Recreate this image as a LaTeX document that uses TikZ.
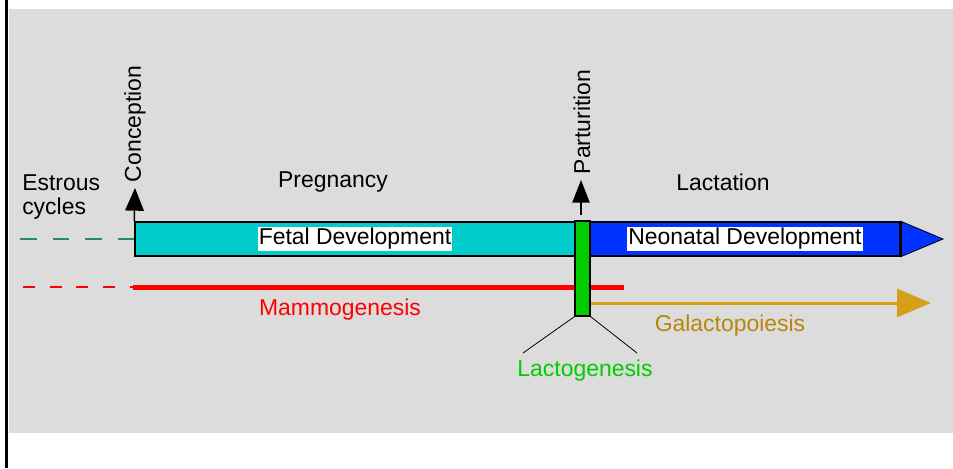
\documentclass[tikz,border=0pt]{standalone}
\usepackage{fontspec}
\setmainfont{Liberation Sans}
\usetikzlibrary{positioning,arrows.meta}

\definecolor{panelgray}{RGB}{220,220,220}
\definecolor{fetalcyan}{RGB}{0,204,204}
\definecolor{neoblue}{RGB}{0,51,255}
\definecolor{lactogreen}{RGB}{0,204,0}
\definecolor{estrousgreen}{RGB}{46,139,87}
\definecolor{galactogold}{RGB}{212,160,23}
\definecolor{galactotext}{RGB}{184,134,11}

\begin{document}
\begin{tikzpicture}[x=0.75pt, y=-0.75pt,
barnode/.style={rectangle, draw=black, line width=1.1pt, minimum height=25.5pt, inner sep=0pt},
tagnode/.style={fill=white, inner sep=0.8pt, font=\fontsize{17.2}{19}\selectfont},
phasenode/.style={font=\fontsize{17.2}{18.5}\selectfont, inner sep=0pt},
]
\useasboundingbox (0,0) rectangle (953,468);
\fill[panelgray] (9,9) rectangle (953,433);
\draw[line width=2.25pt] (6.5,0) -- (6.5,468);

%Nodes
\node[barnode, fill=fetalcyan, minimum width=330pt]     (fetal)   at (355,239)     {};
\node[barnode, fill=neoblue, minimum width=232.5pt]     (neo)     at (745,239)     {};
\node[tagnode]                  (fetaltag)   at (fetal)        {Fetal Development};
\node[tagnode]                  (neotag)     at (neo)          {Neonatal Development};
\node[phasenode, align=left, anchor=west]   (estrous)   at (22,197)    {Estrous\\cycles};
\node[phasenode]                (pregnancy)  at (333,182)      {Pregnancy};
\node[phasenode]                (lactation)  at (723,182)      {Lactation};
\node[phasenode, rotate=90]     (conception) at (135,124)      {Conception};
\node[phasenode, rotate=90]     (parturition) at (582,122)     {Parturition};
\node[phasenode, text=red]      (mammo)      at (340,310)      {Mammogenesis};
\node[phasenode, text=galactotext] (galacto) at (730,326)      {Galactopoiesis};
\node[phasenode, text=lactogreen]  (lactogen) at (585,371)     {Lactogenesis};

%Coordinates
\coordinate (conctip)   at (135,188);
\coordinate (parbase)   at (581,215);
\coordinate (partip)    at (581,180);
\coordinate (neotip)    at (943,239);
\coordinate (estrstart) at (20,239);
\coordinate (mamdash)   at (23,287);
\coordinate (mamstart)  at (133,287);
\coordinate (mamend)    at (624,287);
\coordinate (galstart)  at (590,303);
\coordinate (galtip)    at (931,303);
\coordinate (legleft)   at (523,353);
\coordinate (legright)  at (637,353);

%Lines
\draw[estrousgreen, line width=1.5pt, dash pattern=on 12.5pt off 12pt] (estrstart) -- (fetal.west);
\draw[red, line width=1.5pt, dash pattern=on 9pt off 11pt] (mamdash) -- (mamstart);
\draw[red, line width=3.75pt] (mamstart) -- (mamend);
\draw[galactogold, line width=2.25pt, -{Triangle[length=25.5pt, width=21pt]}] (galstart) -- (galtip);
\fill[neoblue, draw=black, line width=0.6pt] (neo.north east) -- (neotip) -- (neo.south east) -- cycle;
\draw[line width=1.6pt] (neo.north east) -- (neo.south east);
\node[barnode, fill=lactogreen, minimum width=11.25pt, minimum height=71.25pt] (lacto) at (582.5,268.5) {};
\draw[line width=0.6pt] (lacto.south west) -- (legleft);
\draw[line width=0.6pt] (lacto.south east) -- (legright);
\draw[line width=1.1pt, -{Triangle[length=17pt, width=14pt]}] (fetal.north west) -- (conctip);
\draw[line width=1.1pt, -{Triangle[length=17pt, width=13pt]}] (parbase) -- (partip);
\end{tikzpicture}
\end{document}
